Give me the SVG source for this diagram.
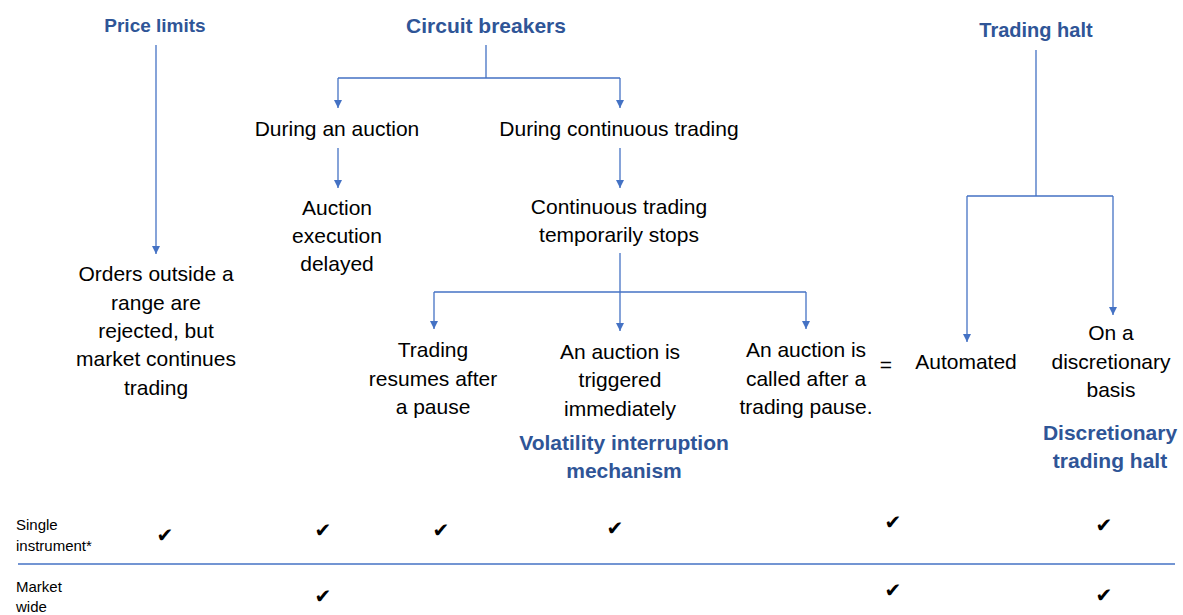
<svg xmlns="http://www.w3.org/2000/svg" width="1183" height="615" viewBox="0 0 1183 615">
<style>
.t{font-family:"Liberation Sans",Arial,sans-serif;font-size:21px;fill:#000;text-anchor:middle}
.h{font-family:"Liberation Sans",Arial,sans-serif;font-size:20px;font-weight:bold;fill:#2F5597;text-anchor:middle}
.s{font-family:"Liberation Sans",Arial,sans-serif;font-size:15px;fill:#000}
.c{font-family:"DejaVu Sans",sans-serif;font-size:20px;fill:#000;text-anchor:middle}
.ln{fill:none;stroke:#4472C4;stroke-width:1.3}
</style>
<defs>
<marker id="ar" viewBox="0 0 8 8" refX="8" refY="4" markerWidth="8" markerHeight="8" markerUnits="userSpaceOnUse" orient="auto">
<path d="M0 0L8 4L0 8Z" fill="#4472C4"/>
</marker>
</defs>
<rect width="1183" height="615" fill="#fff"/>
<g id="connectors">
<path class="ln" d="M156 45V254" marker-end="url(#ar)"/>
<path class="ln" d="M486 45V78M338 78H620"/>
<path class="ln" d="M338 78V108" marker-end="url(#ar)"/>
<path class="ln" d="M620 78V108" marker-end="url(#ar)"/>
<path class="ln" d="M338 148V188" marker-end="url(#ar)"/>
<path class="ln" d="M620 148V188" marker-end="url(#ar)"/>
<path class="ln" d="M620 253V331" marker-end="url(#ar)"/>
<path class="ln" d="M434 292H806"/>
<path class="ln" d="M434 292V329" marker-end="url(#ar)"/>
<path class="ln" d="M806 292V329" marker-end="url(#ar)"/>
<path class="ln" d="M1036 50V196M967 196H1113"/>
<path class="ln" d="M967 196V342" marker-end="url(#ar)"/>
<path class="ln" d="M1113 196V315" marker-end="url(#ar)"/>
<path class="ln" d="M18 564H1175"/>
</g>
<g id="price-limits"><text class="h" x="155" y="32" style="font-size:19px">Price limits</text></g>
<g id="circuit-breakers"><text class="h" x="486" y="33" style="font-size:21px">Circuit breakers</text></g>
<g id="trading-halt"><text class="h" x="1036" y="37">Trading halt</text></g>
<g id="during-auction"><text class="t" x="337" y="136">During an auction</text></g>
<g id="during-continuous"><text class="t" x="619" y="136">During continuous trading</text></g>
<g id="auction-delayed"><text class="t" x="337" y="215">Auction</text><text class="t" x="337" y="243">execution</text><text class="t" x="337" y="271">delayed</text></g>
<g id="continuous-stops"><text class="t" x="619" y="214">Continuous trading</text><text class="t" x="619" y="242">temporarily stops</text></g>
<g id="orders-outside"><text class="t" x="156" y="281">Orders outside a</text><text class="t" x="156" y="310">range are</text><text class="t" x="156" y="338">rejected, but</text><text class="t" x="156" y="366">market continues</text><text class="t" x="156" y="395">trading</text></g>
<g id="trading-resumes"><text class="t" x="433" y="357">Trading</text><text class="t" x="433" y="386">resumes after</text><text class="t" x="433" y="414">a pause</text></g>
<g id="auction-triggered"><text class="t" x="620" y="359">An auction is</text><text class="t" x="620" y="387">triggered</text><text class="t" x="620" y="416">immediately</text></g>
<g id="auction-called"><text class="t" x="806" y="357">An auction is</text><text class="t" x="806" y="386">called after a</text><text class="t" x="806" y="414">trading pause.</text></g>
<g id="equals"><text class="t" x="886" y="372">=</text></g>
<g id="automated"><text class="t" x="966" y="369">Automated</text></g>
<g id="discretionary-basis"><text class="t" x="1111" y="340">On a</text><text class="t" x="1111" y="369">discretionary</text><text class="t" x="1111" y="397">basis</text></g>
<g id="volatility-interruption"><text class="h" x="624" y="450" style="font-size:21px">Volatility interruption</text><text class="h" x="624" y="478" style="font-size:21px">mechanism</text></g>
<g id="discretionary-halt"><text class="h" x="1110" y="440" style="font-size:21px">Discretionary</text><text class="h" x="1110" y="468" style="font-size:21px">trading halt</text></g>
<g id="row-single"><text class="s" x="16" y="530">Single</text><text class="s" x="16" y="551">instrument*</text></g>
<g id="row-market"><text class="s" x="16" y="592">Market</text><text class="s" x="16" y="612">wide</text></g>
<g id="checks">
<text class="c" x="165" y="542">✔</text>
<text class="c" x="323" y="537">✔</text>
<text class="c" x="441" y="537">✔</text>
<text class="c" x="615" y="535">✔</text>
<text class="c" x="893" y="529">✔</text>
<text class="c" x="1104" y="532">✔</text>
<text class="c" x="323" y="603">✔</text>
<text class="c" x="893" y="597">✔</text>
<text class="c" x="1104" y="602">✔</text>
</g>
</svg>
